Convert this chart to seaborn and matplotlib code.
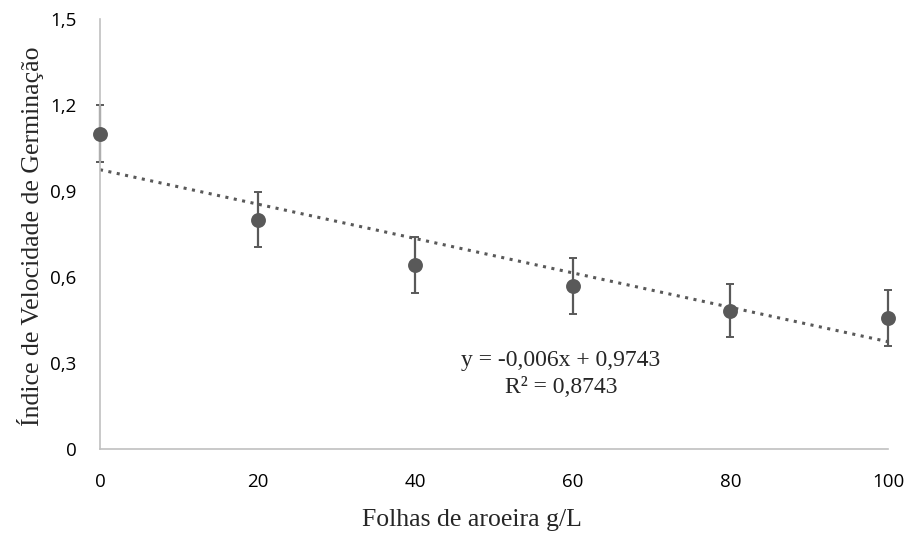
import matplotlib
matplotlib.use("Agg")
import matplotlib.pyplot as plt
import seaborn as sns
import numpy as np
import pandas as pd

# Data
doses = [0, 20, 40, 60, 80, 100]
ivg = [1.10, 0.80, 0.642, 0.569, 0.483, 0.458]
err = [0.10, 0.097, 0.098, 0.097, 0.094, 0.097]
slope = -0.006
intercept = 0.9743
eq_text = "y = -0,006x + 0,9743"
r2_text = "R² = 0,8743"
yticks = [0, 0.3, 0.6, 0.9, 1.2, 1.5]
ytick_labels = ["0", "0,3", "0,6", "0,9", "1,2", "1,5"]
xticks = [0, 20, 40, 60, 80, 100]

df = pd.DataFrame({"dose": doses, "ivg": ivg, "err": err})

sns.set_theme(style="white")
plt.rcParams["font.family"] = ["Open Sans", "DejaVu Sans"]

fig = plt.figure(figsize=(9.10, 5.34), dpi=100)
ax = fig.add_axes([100/910, 1-449/534, 788/910, 430/534])

dark = "#595959"
ax.errorbar(df["dose"], df["ivg"], yerr=df["err"], fmt="none", ecolor=dark,
            elinewidth=1.6, capsize=3.2, capthick=1.4, zorder=2, clip_on=False)
sns.scatterplot(data=df, x="dose", y="ivg", ax=ax, color=dark, s=115,
                edgecolor=dark, linewidth=0, zorder=3, clip_on=False)

xl = np.array([0, 100])
ax.plot(xl, slope*xl + intercept, linestyle=(0, (1, 1.8)), color=dark,
        linewidth=2.2, zorder=1)

ax.set_xlim(0, 100)
ax.set_ylim(0, 1.5)
ax.set_xticks(xticks)
ax.set_xticklabels([str(x) for x in xticks])
ax.set_yticks(yticks)
ax.set_yticklabels(ytick_labels)
ax.tick_params(axis="both", length=0, labelsize=13.5, colors="#000000")
ax.tick_params(axis="x", pad=17)
ax.tick_params(axis="y", pad=17)

for s in ["top", "right"]:
    ax.spines[s].set_visible(False)
for s in ["left", "bottom"]:
    ax.spines[s].set_color("#C0C0C0")
    ax.spines[s].set_linewidth(1.2)

serif = ["Liberation Serif", "DejaVu Serif"]
ax.set_xlabel("Folhas de aroeira g/L", fontsize=18.5, family=serif)
ax.set_ylabel("Índice de Velocidade de Germinação", fontsize=18.5, family=serif)
ax.xaxis.label.set_va("center")
ax.yaxis.label.set_va("center")
ax.xaxis.set_label_coords((472-100)/788, (449-520)/430)
ax.yaxis.set_label_coords((31-100)/788, (449-236)/430)

ax.text(58.5, 0.31, eq_text, ha="center", va="center", fontsize=17, family=serif)
ax.text(58.5, 0.216, r2_text, ha="center", va="center", fontsize=17, family=serif)

fig.savefig("out.png", dpi=100)
